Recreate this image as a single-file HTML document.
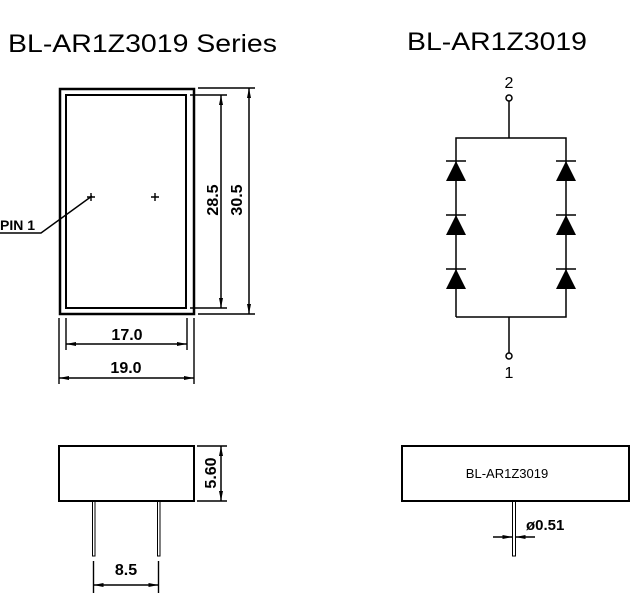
<!DOCTYPE html>
<html><head><meta charset="utf-8"><style>
html,body{margin:0;padding:0;background:#fff;width:643px;height:610px;overflow:hidden}
svg{display:block}
text{font-family:"Liberation Sans",Arial,sans-serif;fill:#000}
</style></head><body>
<svg width="643" height="610" viewBox="0 0 643 610" xmlns="http://www.w3.org/2000/svg">
<defs>
<marker id="a" viewBox="0 0 10 4" refX="10" refY="2" markerWidth="10" markerHeight="4" markerUnits="userSpaceOnUse" orient="auto-start-reverse">
<path d="M0,0 L10,2 L0,4 z" fill="#000"/></marker>
</defs>
<text x="8" y="52" font-size="25" textLength="269" lengthAdjust="spacingAndGlyphs">BL-AR1Z3019 Series</text>
<text x="407" y="50" font-size="25" textLength="180" lengthAdjust="spacingAndGlyphs">BL-AR1Z3019</text>

<g fill="none" stroke="#000">
<rect x="60" y="89" width="134" height="225" stroke-width="2.5"/>
<rect x="66" y="95" width="120" height="213" stroke-width="2"/>
<g stroke-width="1.4">
<path d="M87,197h8M91,193v8M151,197h8M155,193v8"/>
<path d="M0,233H41L92,196"/>
<path d="M198,88H255M198,314H255M190,95H227M190,308H227"/>
<path d="M66,318V350M187,318V350M59,318V384M194,318V384"/>
</g>
<g stroke-width="1.5">
<line x1="221" y1="95" x2="221" y2="308" marker-start="url(#a)" marker-end="url(#a)"/>
<line x1="249" y1="88" x2="249" y2="314" marker-start="url(#a)" marker-end="url(#a)"/>
<line x1="66" y1="344" x2="187" y2="344" marker-start="url(#a)" marker-end="url(#a)"/>
<line x1="59" y1="378" x2="194" y2="378" marker-start="url(#a)" marker-end="url(#a)"/>
</g>
<g stroke-width="1.5">
<circle cx="509" cy="98" r="3"/>
<circle cx="509" cy="356" r="3"/>
<path d="M509,101V138M456,317V138H566V317H456M509,317V353"/>
<path d="M446,161h20M446,215h20M446,269h20M556,161h20M556,215h20M556,269h20"/>
</g>
<rect x="59" y="446" width="135" height="55" stroke-width="2"/>
<rect x="92.5" y="501" width="2.5" height="55" stroke-width="1"/>
<rect x="157.5" y="501" width="2.5" height="55" stroke-width="1"/>
<g stroke-width="1.4">
<path d="M197,446H227M197,501H227M93.5,561V593M158.5,561V593"/>
</g>
<g stroke-width="1.5">
<line x1="221" y1="446" x2="221" y2="501" marker-start="url(#a)" marker-end="url(#a)"/>
<line x1="93.5" y1="585" x2="158.5" y2="585" marker-start="url(#a)" marker-end="url(#a)"/>
</g>
<rect x="402" y="446" width="227" height="55" stroke-width="2"/>
<rect x="512.5" y="501" width="3" height="55" stroke-width="1"/>
<g stroke-width="1.4">
<line x1="493" y1="537" x2="512.5" y2="537" marker-end="url(#a)"/>
<line x1="535" y1="537" x2="515.5" y2="537" marker-end="url(#a)"/>
</g>
</g>
<g fill="#000">
<path d="M456,161l-10,20h20zM456,215l-10,20h20zM456,269l-10,20h20zM566,161l-10,20h20zM566,215l-10,20h20zM566,269l-10,20h20z"/>
</g>
<g font-size="16" text-anchor="middle" font-weight="bold">
<text transform="translate(218,200) rotate(-90)">28.5</text>
<text transform="translate(242,200) rotate(-90)">30.5</text>
<text x="127" y="340">17.0</text>
<text x="126" y="373">19.0</text>
<text transform="translate(216,473) rotate(-90)">5.60</text>
<text x="126" y="575">8.5</text>
</g>
<g font-size="16" text-anchor="middle">
<text x="509" y="88">2</text>
<text x="509" y="378">1</text>
</g>
<text x="0" y="230" font-size="14" font-weight="bold">PIN 1</text>
<text x="507" y="478" font-size="13" text-anchor="middle">BL-AR1Z3019</text>
<text x="526" y="530" font-size="15" font-weight="bold">ø0.51</text>
</svg>
</body></html>
